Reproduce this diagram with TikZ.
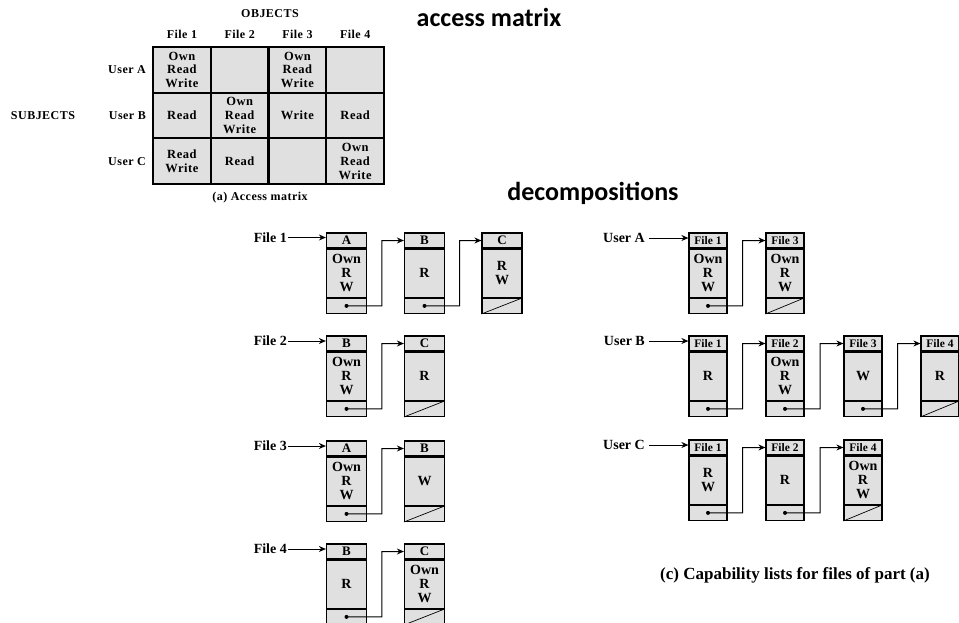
\documentclass[tikz,border=0pt]{standalone}
\usepackage{fontspec}
\setmainfont{Liberation Serif}
\newfontfamily\headfont{Carlito}
\newfontfamily\spacedfont[LetterSpace=4]{Liberation Serif}
\usepackage{tikz}
\usetikzlibrary{arrows.meta,positioning,calc}

\definecolor{cellgray}{RGB}{224,224,224}

\tikzset{
  mcell/.style={draw, fill=cellgray, line width=2.2pt, minimum width=57.75pt, minimum height=45.67pt,
    inner sep=0pt, align=center, font=\spacedfont\fontsize{12.5}{13.8}\selectfont\bfseries},
  mlabel/.style={inner sep=1pt, font=\spacedfont\fontsize{12}{14}\selectfont\bfseries},
  cellhead/.style={draw, fill=cellgray, line width=1.2pt, minimum width=40pt, minimum height=15pt,
    inner sep=0pt, font=\fontsize{13}{13}\selectfont\bfseries},
  cellbody/.style={cellhead, minimum height=48pt, align=center, font=\fontsize{14}{14}\selectfont\bfseries},
  cellptr/.style={cellhead, minimum height=15pt},
  listlabel/.style={inner sep=1pt, font=\fontsize{14}{16}\selectfont\bfseries},
  linkline/.style={line width=1pt, -{Stealth[length=7pt,width=6pt]}},
  headline/.style={font=\headfont\fontsize{26}{30}\selectfont\bfseries}
}

% one entry of a list: name, header position, header text, body text
\newcommand{\listcell}[4]{%
  \node[cellhead] (#1h) at (#2) {#3};
  \node[cellbody, below=0pt of #1h] (#1b) {#4};
  \node[cellptr, below=0pt of #1b] (#1p) {};
}
% pointer from one entry to the next
\newcommand{\listlink}[2]{%
  \draw[linkline] (#1p.center) -- ($(#1p.east)!0.4!(#2p.west)$) |- (#2h.west);
  \fill (#1p.center) circle (2pt);
}
% end of list
\newcommand{\listend}[1]{%
  \draw[line width=0.7pt] (#1p.south west) -- (#1p.north east);
}

\begin{document}
\begin{tikzpicture}[x=1pt,y=-1pt]
  \useasboundingbox (0,0) rectangle (959,622);

  % access matrix
  \node[headline] (title1) at (489,17) {access matrix};
  \node[mlabel] (objects) at (270,14) {OBJECTS};
  \node[mlabel] (subjects) at (43,116) {SUBJECTS};
  \foreach \col in {1,...,4}
    \node[mlabel] (col\col) at ({153+57.75*(\col-0.5)},34) {File \col};
  \foreach \row/\name in {1/User A, 2/User B, 3/User C}
    \node[mlabel, anchor=east] (row\row) at (147,{47+45.67*(\row-0.5)}) {\name};
  \foreach \row/\col/\txt in {1/1/{Own\\Read\\Write}, 1/2/{}, 1/3/{Own\\Read\\Write}, 1/4/{},
      2/1/Read, 2/2/{Own\\Read\\Write}, 2/3/Write, 2/4/Read,
      3/1/{Read\\Write}, 3/2/Read, 3/3/{}, 3/4/{Own\\Read\\Write}}
    \node[mcell] (m\row\col) at ({153+57.75*(\col-0.5)},{47+45.67*(\row-0.5)}) {\txt};
  \node[mlabel] (capa) at (260,198) {(a) Access matrix};

  \node[headline] (title2) at (593,193) {decompositions};

  % access lists
  \listcell{fa1}{346.5,240.5}{A}{Own\\R\\W}
  \listcell{fa2}{424.5,240.5}{B}{R}
  \listcell{fa3}{502,240.5}{C}{R\\W}
  \listlink{fa1}{fa2}
  \listlink{fa2}{fa3}
  \listend{fa3}
  \node[listlabel, anchor=east] (file1) at (288,237.5) {File 1};
  \draw[linkline] (file1.east) -- (file1.east -| fa1h.west);

  \listcell{fb1}{346.5,343.5}{B}{Own\\R\\W}
  \listcell{fb2}{424.5,343.5}{C}{R}
  \listlink{fb1}{fb2}
  \listend{fb2}
  \node[listlabel, anchor=east] (file2) at (288,341) {File 2};
  \draw[linkline] (file2.east) -- (file2.east -| fb1h.west);

  \listcell{fc1}{346.5,448.5}{A}{Own\\R\\W}
  \listcell{fc2}{424.5,448.5}{B}{W}
  \listlink{fc1}{fc2}
  \listend{fc2}
  \node[listlabel, anchor=east] (file3) at (288,446) {File 3};
  \draw[linkline] (file3.east) -- (file3.east -| fc1h.west);

  \listcell{fd1}{346.5,551.5}{B}{R}
  \listcell{fd2}{424.5,551.5}{C}{Own\\R\\W}
  \listlink{fd1}{fd2}
  \listend{fd2}
  \node[listlabel, anchor=east] (file4) at (288,549) {File 4};
  \draw[linkline] (file4.east) -- (file4.east -| fd1h.west);

  % capability lists
  \tikzset{cellhead/.append style={minimum width=38pt, font=\fontsize{11.5}{12}\selectfont\bfseries}}
  \listcell{ua1}{708,240.5}{File 1}{Own\\R\\W}
  \listcell{ua2}{785,240.5}{File 3}{Own\\R\\W}
  \listlink{ua1}{ua2}
  \listend{ua2}
  \node[listlabel, anchor=east] (usera) at (646,238) {User A};
  \draw[linkline, shorten <=3pt] (usera.east) -- (usera.east -| ua1h.west);

  \listcell{ub1}{708,343.5}{File 1}{R}
  \listcell{ub2}{785,343.5}{File 2}{Own\\R\\W}
  \listcell{ub3}{863,343.5}{File 3}{W}
  \listcell{ub4}{940,343.5}{File 4}{R}
  \listlink{ub1}{ub2}
  \listlink{ub2}{ub3}
  \listlink{ub3}{ub4}
  \listend{ub4}
  \node[listlabel, anchor=east] (userb) at (646,341) {User B};
  \draw[linkline, shorten <=3pt] (userb.east) -- (userb.east -| ub1h.west);

  \listcell{uc1}{708,447.5}{File 1}{R\\W}
  \listcell{uc2}{785,447.5}{File 2}{R}
  \listcell{uc3}{863,447.5}{File 4}{Own\\R\\W}
  \listlink{uc1}{uc2}
  \listlink{uc2}{uc3}
  \listend{uc3}
  \node[listlabel, anchor=east] (userc) at (646,445) {User C};
  \draw[linkline, shorten <=3pt] (userc.east) -- (userc.east -| uc1h.west);

  \node[listlabel, font=\fontsize{17}{19}\selectfont\bfseries] (capc) at (795,575) {(c) Capability lists for files of part (a)};
\end{tikzpicture}
\end{document}
